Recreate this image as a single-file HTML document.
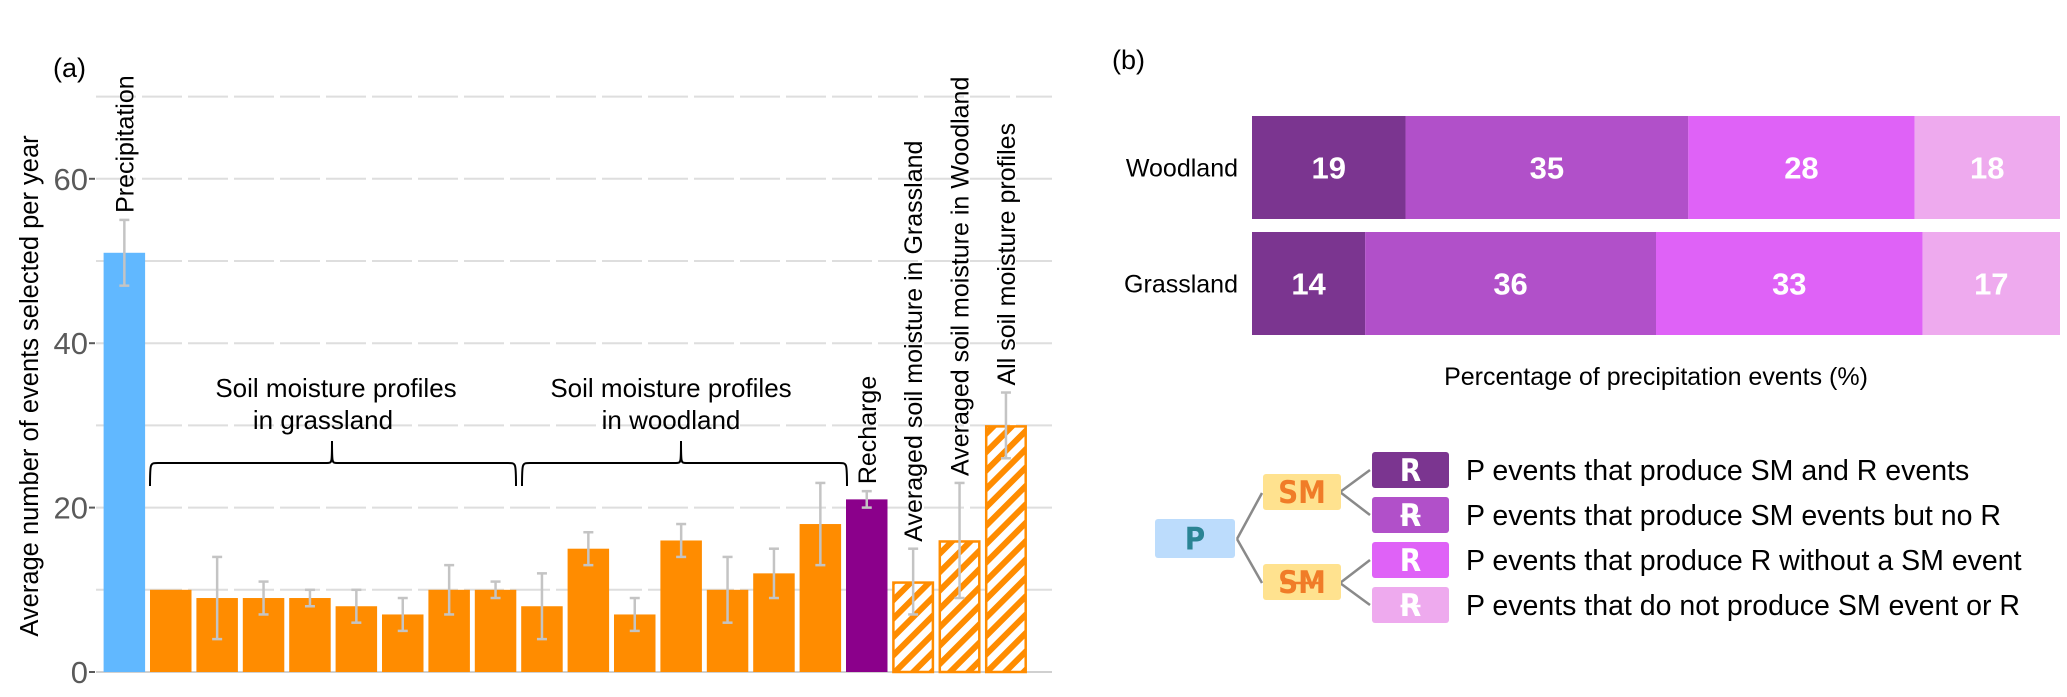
<!DOCTYPE html>
<html><head><meta charset="utf-8"><style>
html,body{margin:0;padding:0;background:#fff;}
svg{display:block;font-family:"Liberation Sans",Arial,sans-serif;}
</style></head><body>
<svg id="fig" width="2067" height="697" viewBox="0 0 2067 697" xmlns="http://www.w3.org/2000/svg">
<defs>
<pattern id="hatch" patternUnits="userSpaceOnUse" width="13" height="13" patternTransform="rotate(45)">
<rect width="13" height="13" fill="#fff"/>
<rect width="6" height="13" fill="#ff8c00"/>
</pattern>
</defs>
<g id="panelA"></g>
<g id="panelB"></g>
<g id="legend"></g>
</svg>
<script>
// ---- Panel (a) data ----
const categories = ["Precipitation","G1","G2","G3","G4","G5","G6","G7","G8","W1","W2","W3","W4","W5","W6","W7","Recharge","Averaged soil moisture in Grassland","Averaged soil moisture in Woodland","All soil moisture profiles"];
const values = [51,10,9,9,9,8,7,10,10,8,15,7,16,10,12,18,21,11,16,30];
const errLow = [47,10,4,7,8,6,5,7,9,4,13,5,14,6,9,13,20,7,9,26];
const errHigh = [55,10,14,11,10,10,9,13,11,12,17,9,18,14,15,23,22,15,23,34];
const kinds = ["p","s","s","s","s","s","s","s","s","s","s","s","s","s","s","s","r","h","h","h"];
const yTicks = [0,20,40,60];
const gridVals = [0,10,20,30,40,50,60,70];
// ---- Panel (b) data ----
const rows = ["Woodland","Grassland"];
const seg1 = [19,14];
const seg2 = [35,36];
const seg3 = [28,33];
const seg4 = [18,17];
const legendLabels = ["P events that produce SM and R events","P events that produce SM events but no R","P events that produce R without a SM event","P events that do not produce SM event or R"];

const NS="http://www.w3.org/2000/svg";
function mk(tag,attrs,parent,text){const e=document.createElementNS(NS,tag);for(const k in attrs)e.setAttribute(k,attrs[k]);if(text!==undefined)e.textContent=text;parent.appendChild(e);return e;}

const A=document.getElementById('panelA');
const y0=672, unit=8.22;
const yS=v=>y0-unit*v;
const xS=i=>103.6+i*46.4;
const bw=41.5;
const colors={p:"#61b8ff",s:"#ff8c00",r:"#8b008b"};

gridVals.forEach(g=>{
  const l=mk('line',{x1:96,x2:1052,y1:yS(g),y2:yS(g),stroke:g===0?"#d0d0d0":"#dedede","stroke-width":2,"stroke-dasharray":g===0?"none":"40 6"},A);
  
  
});
yTicks.forEach(t=>{
  const tx=mk('text',{x:88,y:yS(t)+11,"text-anchor":"end","font-size":31,fill:"#5a5a5a"},A,String(t));
  
  
  const tk=mk('line',{x1:89,x2:95,y1:yS(t),y2:yS(t),stroke:"#5a5a5a","stroke-width":2},A);
  
  
});
const yt=mk('text',{x:0,y:0,transform:"translate(38,386) rotate(-90)","text-anchor":"middle","font-size":25.5,fill:"#000"},A,"Average number of events selected per year");


const pa=mk('text',{x:53,y:77,"font-size":27,fill:"#000"},A,"(a)");



values.forEach((v,i)=>{
  const k=kinds[i];
  let r;
  if(k==="h"){
    r=mk('rect',{x:xS(i)+1,y:yS(v)+1,width:bw-2,height:unit*v-1,fill:"url(#hatch)",stroke:"#ff8c00","stroke-width":2.5},A);
  } else {
    r=mk('rect',{x:xS(i),y:yS(v),width:bw,height:unit*v,fill:colors[k]},A);
  }
  
  
  const cx=xS(i)+bw/2;
  if(errHigh[i]!==errLow[i]){
    const eb=mk('g',{stroke:"#c4c4c4","stroke-width":2.5},A);
    
    
    mk('line',{x1:cx,x2:cx,y1:yS(errHigh[i]),y2:yS(errLow[i])},eb);
    mk('line',{x1:cx-5,x2:cx+5,y1:yS(errHigh[i]),y2:yS(errHigh[i])},eb);
    mk('line',{x1:cx-5,x2:cx+5,y1:yS(errLow[i]),y2:yS(errLow[i])},eb);
  }
  if(k!=="s"){
    const by=yS(Math.max(errHigh[i],v))-7;
    const lb=mk('text',{x:0,y:0,transform:`translate(${cx+9},${by}) rotate(-90)`,"font-size":25,fill:"#000"},A,categories[i]);
    
    
  }
});

function brace(x1,x2,xt,parent,name){
  const yb=463,ye=486,yt=441;
  const d=`M${x1},${ye} C${x1},${yb} ${x1},${yb} ${x1+8},${yb} L${xt-5},${yb} C${xt},${yb} ${xt},${yb} ${xt},${yt} C${xt},${yb} ${xt},${yb} ${xt+5},${yb} L${x2-8},${yb} C${x2},${yb} ${x2},${yb} ${x2},${ye}`;
  const p=mk('path',{d:d,fill:"none",stroke:"#000","stroke-width":2},parent);
  
  
}
brace(150,516,332,A,'grassland-brace');
brace(522,847,681,A,'woodland-brace');
[["Soil moisture profiles",336,397],["in grassland",323,429],["Soil moisture profiles",671,397],["in woodland",671,429]].forEach(t=>{
  const e=mk('text',{x:t[1],y:t[2],"text-anchor":"middle","font-size":26,fill:"#000"},A,t[0]);
  
  
});

// ---- Panel (b) ----
const B=document.getElementById('panelB');
const segCols=["#7b3590","#b150c9","#df62f7","#eeaaee"];
const bx0=1252, bw100=808;
const rowY=[116,232], rowH=103;
const pb=mk('text',{x:1112,y:69,"font-size":27,fill:"#000"},B,"(b)");


rows.forEach((name,ri)=>{
  const segs=[seg1[ri],seg2[ri],seg3[ri],seg4[ri]];
  const lab=mk('text',{x:1238,y:rowY[ri]+rowH/2+9,"text-anchor":"end","font-size":25,fill:"#000"},B,name);
  
  
  let acc=0;
  segs.forEach((s,si)=>{
    const x=bx0+bw100*acc/100, w=bw100*s/100;
    const r=mk('rect',{x:x,y:rowY[ri],width:w,height:rowH,fill:segCols[si]},B);
    
    
    const t=mk('text',{x:x+w/2,y:rowY[ri]+rowH/2+11,"text-anchor":"middle","font-size":31,"font-weight":"bold",fill:"#fff"},B,String(s));
    
    
    acc+=s;
  });
});
const xt=mk('text',{x:1656,y:385,"text-anchor":"middle","font-size":25,fill:"#000"},B,"Percentage of precipitation events (%)");



// ---- Legend ----
const L=document.getElementById('legend');
const lines=mk('g',{stroke:"#8a8a8a","stroke-width":2.5,fill:"none"},L);


mk('path',{d:"M1237,539 L1262,493 M1237,539 L1262,583"},lines);
mk('path',{d:"M1340,492 L1370,470 M1340,492 L1370,515 M1340,583 L1370,560 M1340,583 L1370,605"},lines);
function box(x,y,w,h,fill,txt,col,strike,name){
  const g=mk('g',{},L);
  
  
  mk('rect',{x:x,y:y,width:w,height:h,rx:3,fill:fill},g);
  mk('text',{x:x+w/2,y:y+h/2+11,"text-anchor":"middle","font-size":31,"font-weight":"bold",fill:col,"font-family":"'DejaVu Sans Condensed','Liberation Sans',sans-serif"},g,txt);
  if(strike) mk('line',{x1:x+w/2-(txt.length*10),x2:x+w/2+(txt.length*10),y1:y+h/2+1,y2:y+h/2+1,stroke:col,"stroke-width":2.5},g);
}
box(1155,519,80,39,"#bcdcfc","P","#2a8494",false,'p-box');
box(1263,474,78,36,"#ffe28f","SM","#f07c28",false,'sm-box');
box(1263,564,78,36,"#ffe28f","SM","#f07c28",true,'no-sm-box');
const ry=[452,497,542,587];
legendLabels.forEach((t,i)=>{
  box(1372,ry[i],77,36,segCols[i],"R","#fff",i===1||i===3,'legend-swatch-'+(i+1));
  const e=mk('text',{x:1466,y:ry[i]+28,"font-size":28.5,fill:"#000"},L,t);
  
  
});
</script>
</body></html>
